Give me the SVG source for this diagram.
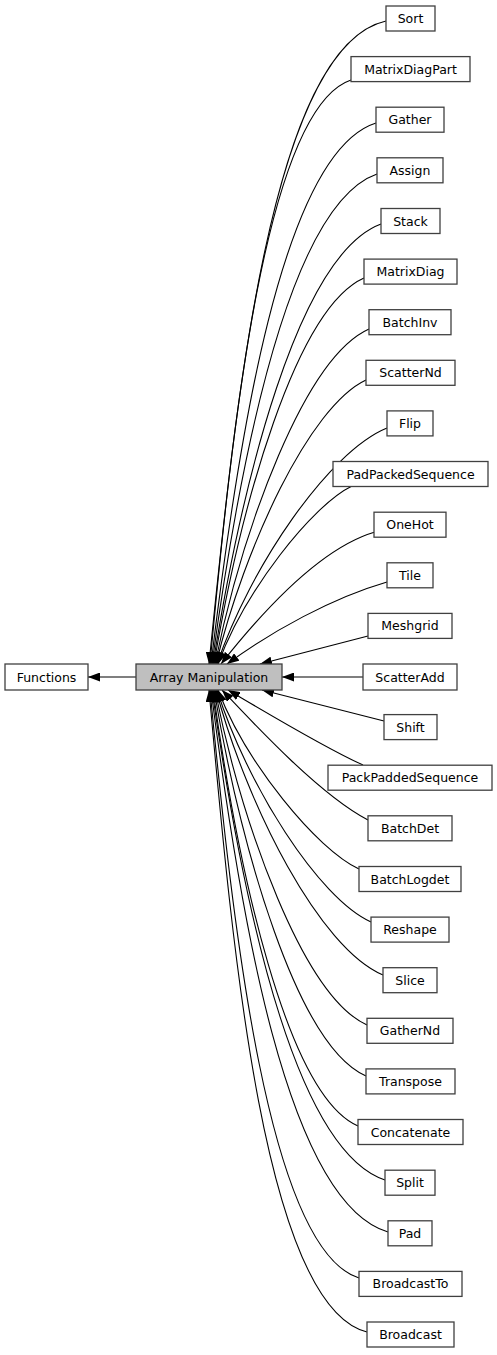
<svg xmlns="http://www.w3.org/2000/svg" width="497" height="1355" viewBox="0 0 497 1355">
<style>
.node rect{fill:#ffffff;stroke:#404040;stroke-width:1.3}
.node.main rect{fill:#bfbfbf}
.node text{font-family:"DejaVu Sans","Liberation Sans",sans-serif;font-size:12.5px;text-anchor:middle;fill:#000}
.edge path{fill:none;stroke:#000;stroke-width:1.1;marker-end:url(#arr)}
</style>
<defs>
<marker id="arr" markerUnits="userSpaceOnUse" viewBox="0 0 12 9" markerWidth="12" markerHeight="9" refX="12" refY="4.5" orient="auto">
<path d="M0,0 L12,4.5 L0,9 z" fill="#000"/>
</marker>
</defs>
<g id="edges" class="edge">
<path d="M136,677 L88,677"/>
<path d="M386,21 C270.9,46.7 235.6,400.4 209,664"/>
<path d="M351,80 C265.6,108.6 232,424.6 210,664"/>
<path d="M376,123 C281.5,152.9 237.6,442.2 211,664"/>
<path d="M377,174 C288.7,204.9 239.4,463.1 212,664"/>
<path d="M381,224 C297.5,255.1 241.9,483.6 213,664"/>
<path d="M364,278 C295.6,308.4 240.7,505.7 214,664"/>
<path d="M369,329 C304.6,357.9 243.2,526.6 215,664"/>
<path d="M366,380 C309,406.7 244.4,547.6 216,664"/>
<path d="M387,428 C328.5,451.8 250,567.2 217,664"/>
<path d="M352,486 C311.8,505.6 244.8,591 218,664"/>
<path d="M375,532 C320,548 262,612 221,664"/>
<path d="M387,582 C332,598 272,631 227,664"/>
<path d="M368,636 L260,664"/>
<path d="M363,677 L282,677"/>
<path d="M384,721 L262,690"/>
<path d="M363,765 C325,748 262,710 228,690"/>
<path d="M368,820 C320,795 255,725 222,690"/>
<path d="M359,869 C316.7,849.3 246.2,763.4 218,690"/>
<path d="M371,922 C318.5,898.4 246.9,785.1 217,690"/>
<path d="M383,975 C319.5,948.2 247.5,806.9 216,690"/>
<path d="M367,1025 C303.5,996.1 242.8,827.4 215,690"/>
<path d="M366,1076 C296.7,1045.6 241.1,848.3 214,690"/>
<path d="M358,1126 C286.4,1095 237.9,868.8 213,690"/>
<path d="M385,1180 C292.4,1149.1 240.7,890.9 212,690"/>
<path d="M388,1232 C286.4,1202.1 239.5,912.2 211,690"/>
<path d="M359,1278 C268.3,1249.6 233.2,931.1 210,690"/>
<path d="M367,1332 C264.3,1306.3 232.7,953.2 209,690"/>
</g>
<g id="n_functions" class="node"><rect x="5" y="664" width="83" height="26"/><text x="46.5" y="681.5">Functions</text></g>
<g id="n_array" class="node main"><rect x="136" y="664" width="146" height="26"/><text x="209" y="681.5">Array Manipulation</text></g>
<g id="n_sort" class="node"><rect x="386" y="6" width="49" height="25"/><text x="410.5" y="23">Sort</text></g>
<g id="n_matrixdiagpart" class="node"><rect x="351" y="56.6" width="119" height="25"/><text x="410.5" y="73.6">MatrixDiagPart</text></g>
<g id="n_gather" class="node"><rect x="376" y="107.2" width="68" height="25"/><text x="410" y="124.2">Gather</text></g>
<g id="n_assign" class="node"><rect x="377" y="157.8" width="66" height="25"/><text x="410" y="174.8">Assign</text></g>
<g id="n_stack" class="node"><rect x="381" y="208.5" width="59" height="25"/><text x="410.5" y="225.5">Stack</text></g>
<g id="n_matrixdiag" class="node"><rect x="364" y="259.1" width="93" height="25"/><text x="410.5" y="276.1">MatrixDiag</text></g>
<g id="n_batchinv" class="node"><rect x="369" y="309.7" width="82" height="25"/><text x="410" y="326.7">BatchInv</text></g>
<g id="n_scatternd" class="node"><rect x="366" y="360.3" width="89" height="25"/><text x="410.5" y="377.3">ScatterNd</text></g>
<g id="n_flip" class="node"><rect x="387" y="410.9" width="46" height="25"/><text x="410" y="427.9">Flip</text></g>
<g id="n_padpackedsequence" class="node"><rect x="333" y="461.5" width="155" height="25"/><text x="410.5" y="478.5">PadPackedSequence</text></g>
<g id="n_onehot" class="node"><rect x="374" y="512.2" width="72" height="25"/><text x="410" y="529.2">OneHot</text></g>
<g id="n_tile" class="node"><rect x="387" y="562.8" width="46" height="25"/><text x="410" y="579.8">Tile</text></g>
<g id="n_meshgrid" class="node"><rect x="368" y="613.4" width="84" height="25"/><text x="410" y="630.4">Meshgrid</text></g>
<g id="n_scatteradd" class="node"><rect x="363" y="664" width="94" height="26"/><text x="410" y="681.5">ScatterAdd</text></g>
<g id="n_shift" class="node"><rect x="384" y="714.6" width="53" height="25"/><text x="410.5" y="731.6">Shift</text></g>
<g id="n_packpaddedsequence" class="node"><rect x="328" y="765.2" width="164" height="25"/><text x="410" y="782.2">PackPaddedSequence</text></g>
<g id="n_batchdet" class="node"><rect x="368" y="815.8" width="84" height="25"/><text x="410" y="832.8">BatchDet</text></g>
<g id="n_batchlogdet" class="node"><rect x="359" y="866.5" width="102" height="25"/><text x="410" y="883.5">BatchLogdet</text></g>
<g id="n_reshape" class="node"><rect x="371" y="917.1" width="78" height="25"/><text x="410" y="934.1">Reshape</text></g>
<g id="n_slice" class="node"><rect x="383" y="967.7" width="54" height="25"/><text x="410" y="984.7">Slice</text></g>
<g id="n_gathernd" class="node"><rect x="367" y="1018.3" width="86" height="25"/><text x="410" y="1035.3">GatherNd</text></g>
<g id="n_transpose" class="node"><rect x="366" y="1068.9" width="89" height="25"/><text x="410.5" y="1085.9">Transpose</text></g>
<g id="n_concatenate" class="node"><rect x="358" y="1119.5" width="105" height="25"/><text x="410.5" y="1136.5">Concatenate</text></g>
<g id="n_split" class="node"><rect x="385" y="1170.2" width="50" height="25"/><text x="410" y="1187.2">Split</text></g>
<g id="n_pad" class="node"><rect x="388" y="1220.8" width="44" height="25"/><text x="410" y="1237.8">Pad</text></g>
<g id="n_broadcastto" class="node"><rect x="359" y="1271.4" width="103" height="25"/><text x="410.5" y="1288.4">BroadcastTo</text></g>
<g id="n_broadcast" class="node"><rect x="367" y="1322" width="87" height="25"/><text x="410.5" y="1339">Broadcast</text></g>
</svg>
